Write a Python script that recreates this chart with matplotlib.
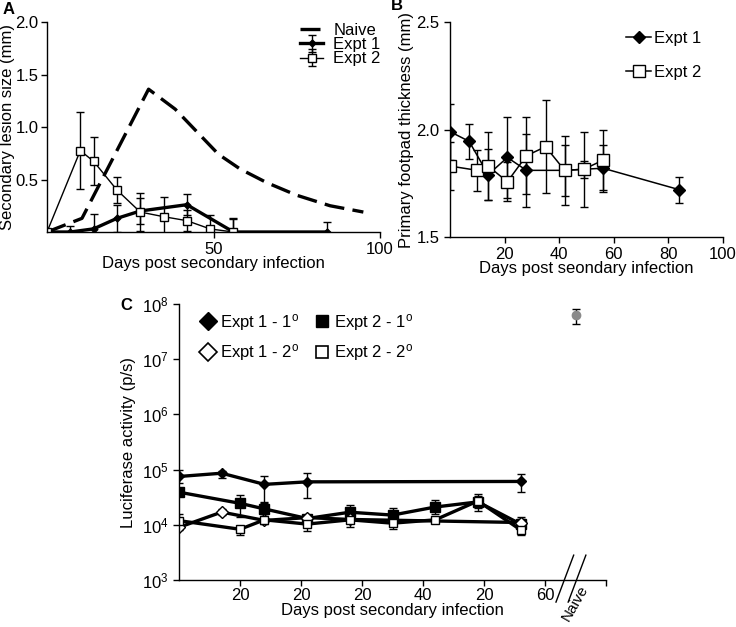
#!/usr/bin/env python3

import numpy as np
import matplotlib
matplotlib.use("Agg")
import matplotlib.pyplot as plt
from matplotlib.lines import Line2D
from matplotlib.ticker import FixedLocator, FixedFormatter, NullLocator, LogLocator

# ---------------- Panel A: secondary lesion size ----------------
a_naive_days = [0, 10.5, 30.5, 38.5, 51.5, 58, 66, 75, 85, 95]
a_naive = [0, 0.13, 1.36, 1.17, 0.74, 0.60, 0.47, 0.35, 0.25, 0.19]

a_e1_days = [0, 7, 14, 21, 28, 42, 56, 84]
a_e1 = [0, 0, 0.03, 0.13, 0.20, 0.26, 0, 0]
a_e1_err = [0, 0.06, 0.14, 0.13, 0.12, 0.10, 0.12, 0.10]

a_e2_days = [0, 10, 14, 21, 28, 35, 42, 49, 56]
a_e2 = [0, 0.775, 0.673, 0.40, 0.19, 0.146, 0.108, 0.029, 0]
a_e2_err = [0.02, 0.37, 0.23, 0.12, 0.18, 0.19, 0.10, 0.13, 0.13]

# ---------------- Panel B: primary footpad thickness ----------------
b_e1_days = [0, 7, 14, 21, 28, 42, 49, 56, 84]
b_e1 = [1.99, 1.945, 1.79, 1.87, 1.81, 1.81, 1.815, 1.82, 1.72]
b_e1_err = [0.13, 0.08, 0.12, 0.19, 0.17, 0.12, 0.04, 0.11, 0.06]

b_e2_days = [0, 10, 14, 21, 28, 35, 42, 49, 56]
b_e2 = [1.83, 1.81, 1.83, 1.757, 1.878, 1.92, 1.81, 1.815, 1.857]
b_e2_err = [0.11, 0.095, 0.16, 0.09, 0.18, 0.215, 0.16, 0.175, 0.14]

# ---------------- Panel C: luciferase activity ----------------
c_e1_1_x = [0, 7, 14, 21, 56]
c_e1_1 = [7.5e4, 8.6e4, 5.4e4, 6.0e4, 6.1e4]
c_e1_1_lo = [5.8e4, 7.0e4, 2.5e4, 3.0e4, 3.9e4]
c_e1_1_hi = [1.0e5, 9.6e4, 7.7e4, 8.6e4, 8.3e4]

c_e2_1_x = [0, 10, 14, 21, 28, 35, 42, 49, 56]
c_e2_1 = [3.9e4, 2.45e4, 1.94e4, 1.3e4, 1.69e4, 1.5e4, 2.1e4, 2.6e4, 1.03e4]
c_e2_1_lo = [3.9e4, 1.4e4, 1.45e4, 1.1e4, 1.3e4, 1.2e4, 1.6e4, 1.8e4, 8.0e3]
c_e2_1_hi = [3.9e4, 3.5e4, 2.6e4, 1.5e4, 2.3e4, 2.0e4, 2.8e4, 3.6e4, 1.4e4]

c_e1_2_x = [0, 7, 14, 21, 28, 56]
c_e1_2 = [9.0e3, 1.7e4, 1.2e4, 1.35e4, 1.25e4, 1.1e4]
c_e1_2_lo = [8.0e3, 1.5e4, 1.05e4, 1.15e4, 1.1e4, 9.5e3]
c_e1_2_hi = [1.0e4, 1.9e4, 1.35e4, 1.5e4, 1.4e4, 1.3e4]

c_e2_2_x = [0, 10, 14, 21, 28, 35, 42, 49, 56]
c_e2_2 = [1.19e4, 8.3e3, 1.23e4, 1.03e4, 1.23e4, 1.07e4, 1.23e4, 2.7e4, 8.1e3]
c_e2_2_lo = [1.0e4, 6.4e3, 1.1e4, 7.8e3, 9.0e3, 8.5e3, 1.1e4, 2.0e4, 6.6e3]
c_e2_2_hi = [1.58e4, 9.5e3, 1.4e4, 1.3e4, 1.4e4, 1.25e4, 1.4e4, 3.3e4, 1.0e4]

c_naive_x = [65]
c_naive = [6.4e7]
c_naive_lo = [4.4e7]
c_naive_hi = [8.1e7]

c_tick_pos = [10, 20, 30, 40, 50, 60, 70]
c_tick_labels = ["20", "20", "20", "40", "20", "60", ""]


def asym(y, lo, hi):
    y = np.array(y)
    return [y - np.array(lo), np.array(hi) - y]


def style_axes(ax):
    for s in ("top", "right"):
        ax.spines[s].set_visible(False)
    ax.tick_params(direction="out", length=4, width=1)


def main():
    plt.rcParams["font.family"] = ["Liberation Sans", "DejaVu Sans"]
    plt.rcParams["font.size"] = 12
    plt.rcParams["mathtext.default"] = "regular"
    plt.rcParams["axes.linewidth"] = 1.0

    W, H = 736, 627
    fig = plt.figure(figsize=(W / 100, H / 100), dpi=100)

    def rect(l, r, t, b):
        return [l / W, 1 - b / H, (r - l) / W, (b - t) / H]

    eb = dict(ecolor="black", elinewidth=1, capsize=3, capthick=1)

    # ---------- A ----------
    axA = fig.add_axes(rect(47, 380, 22, 232))
    style_axes(axA)
    axA.plot(a_naive_days, a_naive, color="black", lw=2.4, dashes=(6, 2.5), label="Naive")
    axA.errorbar(a_e1_days, a_e1, yerr=a_e1_err, color="black", lw=2.4, marker="D",
                 ms=3.5, label="Expt 1", **eb)
    axA.errorbar(a_e2_days, a_e2, yerr=a_e2_err, color="black", lw=1, marker="s",
                 ms=6, mfc="white", mec="black", mew=1, label="Expt 2", **eb)
    axA.set_xlim(0, 100)
    axA.set_ylim(0, 2.0)
    axA.set_xticks([50, 100])
    axA.set_yticks([0.5, 1.0, 1.5, 2.0])
    axA.set_yticklabels(["0.5", "1.0", "1.5", "2.0"])
    axA.tick_params(axis="y", pad=2)
    axA.set_xlabel("Days post secondary infection", labelpad=-1)
    axA.set_ylabel("Secondary lesion size (mm)")
    axA.yaxis.set_label_coords(-0.095, 0.5)
    hA, lA = axA.get_legend_handles_labels()
    axA.legend(hA, lA, loc="upper left", bbox_to_anchor=(300 / W, 1 - 23 / H),
               bbox_transform=fig.transFigure, frameon=False, borderpad=0,
               borderaxespad=0, handlelength=1.4, handletextpad=0.6,
               labelspacing=-0.05)
    fig.text(3 / W, 1 - 10 / H, "A", fontsize=12, fontweight="bold", va="center")

    # ---------- B ----------
    axB = fig.add_axes(rect(450, 723, 22, 237))
    style_axes(axB)
    axB.errorbar(b_e1_days, b_e1, yerr=b_e1_err, color="black", lw=1.1, marker="D",
                 ms=6.5, label="Expt 1", **eb)
    axB.errorbar(b_e2_days, b_e2, yerr=b_e2_err, color="black", lw=1.1, marker="s",
                 ms=8, mfc="white", mec="black", mew=1, label="Expt 2", **eb)
    axB.set_xlim(0, 100)
    axB.set_ylim(1.5, 2.5)
    axB.set_xticks([20, 40, 60, 80, 100])
    axB.set_yticks([1.5, 2.0, 2.5])
    axB.set_yticklabels(["1.5", "2.0", "2.5"])
    axB.set_xlabel("Days post seondary infection", labelpad=-1)
    axB.set_ylabel("Primary footpad thickness (mm)", labelpad=2)
    hB = [Line2D([], [], color="black", lw=1.1, marker="D", ms=6.5),
          Line2D([], [], color="black", lw=1.1, marker="s", ms=8, mfc="white", mec="black")]
    axB.legend(hB, ["Expt 1", "Expt 2"], loc="upper left",
               bbox_to_anchor=(626 / W, 1 - 31 / H), bbox_transform=fig.transFigure,
               frameon=False, borderpad=0, borderaxespad=0, handlelength=1.5,
               handletextpad=0.15, labelspacing=1.15)
    fig.text(391 / W, 1 - 6 / H, "B", fontsize=12, fontweight="bold", va="center")

    # ---------- C ----------
    axC = fig.add_axes(rect(179, 606, 304, 580))
    style_axes(axC)
    axC.set_yscale("log")
    axC.errorbar(c_e1_1_x, c_e1_1, yerr=asym(c_e1_1, c_e1_1_lo, c_e1_1_hi), color="black",
                 lw=2.4, marker="D", ms=5, **eb)
    axC.errorbar(c_e2_1_x, c_e2_1, yerr=asym(c_e2_1, c_e2_1_lo, c_e2_1_hi), color="black",
                 lw=2.4, marker="s", ms=7, **eb)
    axC.errorbar(c_e1_2_x, c_e1_2, yerr=asym(c_e1_2, c_e1_2_lo, c_e1_2_hi), color="black",
                 lw=2.4, marker="D", ms=6, mfc="white", mec="black", mew=1, **eb)
    axC.errorbar(c_e2_2_x, c_e2_2, yerr=asym(c_e2_2, c_e2_2_lo, c_e2_2_hi), color="black",
                 lw=2.4, marker="s", ms=6, mfc="white", mec="black", mew=1, **eb)
    axC.errorbar(c_naive_x, c_naive, yerr=asym(c_naive, c_naive_lo, c_naive_hi),
                 color="#8a8a8a", marker="o", ms=6, ls="none", **eb)
    axC.set_xlim(0, 70)
    axC.set_ylim(1e3, 1e8)
    axC.xaxis.set_major_locator(FixedLocator(c_tick_pos))
    axC.xaxis.set_major_formatter(FixedFormatter(c_tick_labels))
    axC.yaxis.set_major_locator(LogLocator(base=10, numticks=10))
    axC.yaxis.set_minor_locator(NullLocator())
    axC.tick_params(axis="x", pad=2)
    axC.set_xlabel("Days post secondary infection", labelpad=0)
    axC.set_ylabel("Luciferase activity (p/s)", labelpad=4)

    # axis break "//" just before the naive column
    brk = axC.get_xaxis_transform()
    for x0 in (c_naive_x[0] - 3.2, c_naive_x[0] - 1.2):
        axC.plot([x0, x0 + 2.9], [-0.08, 0.09], transform=brk, color="black",
                 lw=1, clip_on=False)
    axC.text(c_naive_x[0], -0.01, "Naive", transform=brk, rotation=60,
             ha="center", va="top", fontsize=11)

    hC = [Line2D([], [], ls="none", marker="D", ms=9, color="black"),
          Line2D([], [], ls="none", marker="D", ms=9, mfc="white", mec="black", mew=1.2),
          Line2D([], [], ls="none", marker="s", ms=8, color="black"),
          Line2D([], [], ls="none", marker="s", ms=8, mfc="white", mec="black", mew=1.2)]
    lC = ["Expt 1 - 1$^{o}$", "Expt 1 - 2$^{o}$", "Expt 2 - 1$^{o}$", "Expt 2 - 2$^{o}$"]
    axC.legend(hC, lC, ncol=2, loc="upper left", bbox_to_anchor=(200 / W, 1 - 312 / H),
               bbox_transform=fig.transFigure, frameon=False, borderpad=0,
               borderaxespad=0, handlelength=0.9, handletextpad=0.3,
               labelspacing=0.55, columnspacing=0.9)
    fig.text(120 / W, 1 - 305 / H, "C", fontsize=12, fontweight="bold", va="center")

    fig.savefig("out.png", dpi=100)


if __name__ == "__main__":
    main()
